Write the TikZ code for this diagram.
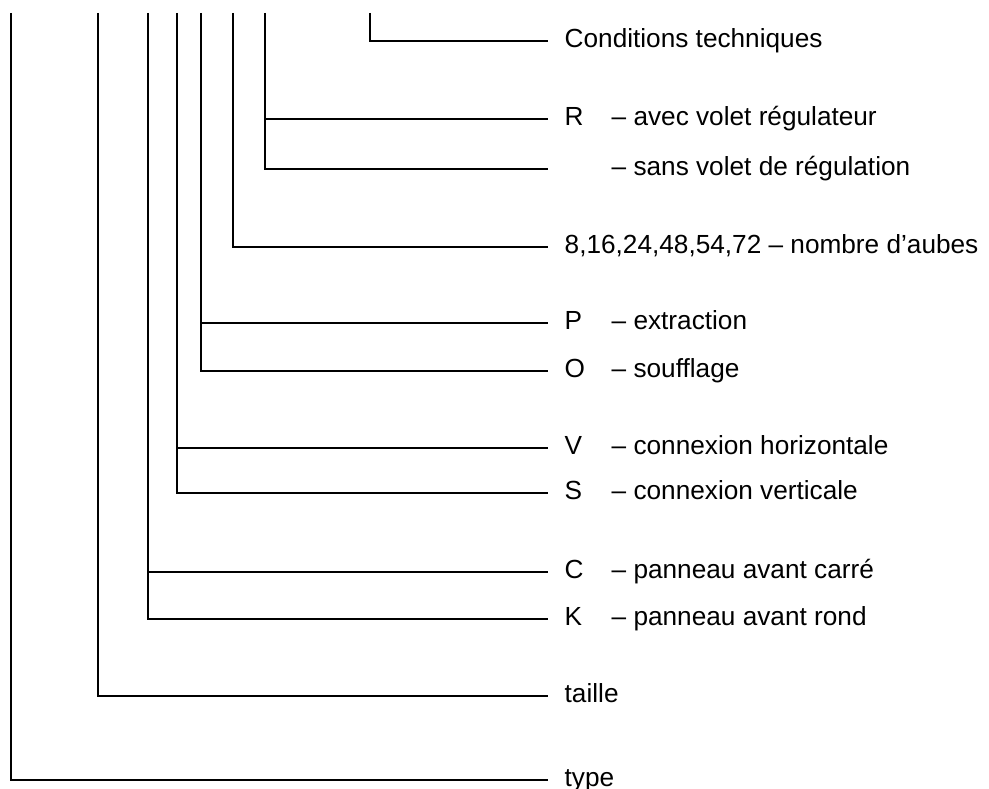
\documentclass[tikz,border=0pt]{standalone}
\usepackage{fontspec}
\setmainfont{Liberation Sans}
\begin{document}
\begin{tikzpicture}[x=1pt,y=-1pt,
  conn/.style={line width=2.3pt, line cap=butt, line join=miter},
  lbl/.style={anchor=west, inner xsep=16.5pt, inner ysep=0pt, text height=20pt, text depth=6.6pt,
    font=\fontsize{26.2}{31}\selectfont}]
\newcommand{\letterbox}[1]{\makebox[47pt][l]{#1}}
\useasboundingbox (0,0) rectangle (989,789);
% tops of vertical lines
\coordinate (t1) at (370,13);
\coordinate (t2) at (265,13);
\coordinate (t3) at (233,13);
\coordinate (t4) at (201,13);
\coordinate (t5) at (177,13);
\coordinate (t6) at (148,13);
\coordinate (t7) at (98,13);
\coordinate (t8) at (11,13);
% labels
\node[lbl] (cond) at (548,41) {Conditions techniques};
\node[lbl] (R) at (548,119) {\letterbox{R}– avec volet régulateur};
\node[lbl] (sans) at (548,169) {\letterbox{}– sans volet de régulation};
\node[lbl] (aubes) at (548,247) {8,16,24,48,54,72 – nombre d’aubes};
\node[lbl] (P) at (548,323) {\letterbox{P}– extraction};
\node[lbl] (O) at (548,371) {\letterbox{O}– soufflage};
\node[lbl] (V) at (548,448) {\letterbox{V}– connexion horizontale};
\node[lbl] (S) at (548,493) {\letterbox{S}– connexion verticale};
\node[lbl] (C) at (548,572) {\letterbox{C}– panneau avant carré};
\node[lbl] (K) at (548,619) {\letterbox{K}– panneau avant rond};
\node[lbl] (taille) at (548,696) {taille};
\node[lbl] (type) at (548,780) {type};
% connectors
\draw[conn] (t1) |- (cond.west);
\draw[conn] (t2) |- (sans.west);
\draw[conn] (t2 |- R.west) -- (R.west);
\draw[conn] (t3) |- (aubes.west);
\draw[conn] (t4) |- (O.west);
\draw[conn] (t4 |- P.west) -- (P.west);
\draw[conn] (t5) |- (S.west);
\draw[conn] (t5 |- V.west) -- (V.west);
\draw[conn] (t6) |- (K.west);
\draw[conn] (t6 |- C.west) -- (C.west);
\draw[conn] (t7) |- (taille.west);
\draw[conn] (t8) |- (type.west);
\end{tikzpicture}
\end{document}
